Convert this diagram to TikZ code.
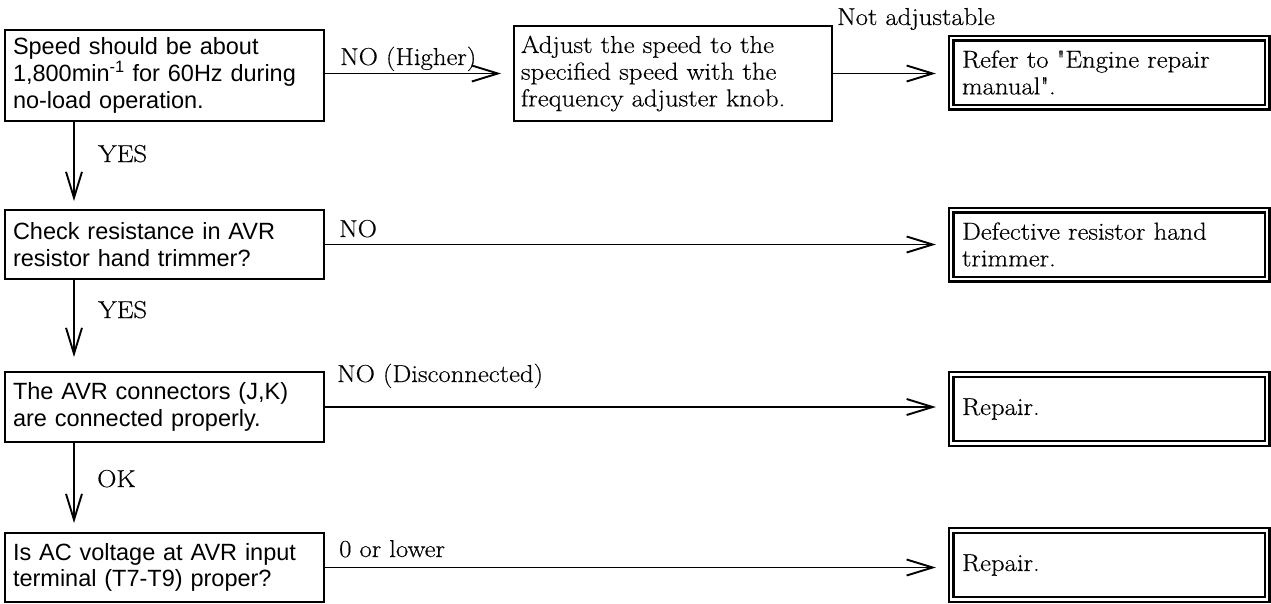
\documentclass[tikz,border=0pt]{standalone}
\usepackage{fontspec}
\newfontfamily\sansf{Liberation Sans}
\newfontfamily\serf[FakeStretch=1.09,FakeBold=0.4,Ligatures=TeXOff]{Latin Modern Roman}
\usetikzlibrary{arrows.meta}
\begin{document}
\begin{tikzpicture}[x=1pt,y=-1pt,
  serif/.style={font=\serf\fontsize{24.5}{26.7}\selectfont},
  lbox/.style={draw, line width=1.9pt, minimum width=319pt, inner xsep=8pt, inner ysep=0pt,
    text width=303pt, align=left, font=\sansf\fontsize{23.5}{26.7}\selectfont},
  mbox/.style={draw, line width=1.9pt, minimum width=318pt, minimum height=95pt, inner xsep=7pt,
    inner ysep=0pt, text width=304pt, align=left, serif},
  dbox/.style={draw, line width=2.3pt, double, double distance=2.4pt, minimum width=316pt,
    minimum height=69pt, inner xsep=11pt, inner ysep=0pt, text width=294pt, align=left, serif},
  lab/.style={serif, inner sep=0pt, anchor=base west},
  conn/.style={line width=1.9pt, -{Straight Barb[length=26pt,width=16pt]}}
]
\useasboundingbox (0,0) rectangle (1271,603);
\coordinate (vx) at (74,0);

% left question boxes
\node[lbox, minimum height=91pt] (q1) at (164.5,75.5)
  {Speed should be about\\1,800min\textsuperscript{-1} for 60Hz during\\no-load operation.};
\node[lbox, minimum height=69pt] (q2) at (164.5,244.5)
  {Check resistance in AVR\\resistor hand trimmer?};
\node[lbox, minimum height=70pt] (q3) at (164.5,407)
  {The AVR connectors (J,K)\\are connected properly.};
\node[lbox, minimum height=69pt] (q4) at (164.5,567.5)
  {Is AC voltage at AVR input\\terminal (T7-T9) proper?};

% middle box
\node[mbox] (adj) at (673,73.5)
  {Adjust the speed to the\\specified speed with the\\frequency adjuster knob.};

% result boxes
\node[dbox] (r1) at (1109,72.5) {Refer to "Engine repair\\manual".};
\node[dbox] (r2) at (1109,244.5) {Defective resistor hand\\trimmer.};
\node[dbox] (r3) at (1109,409) {Repair.};
\node[dbox] (r4) at (1109,565) {Repair.};

% connectors
\draw[conn, shorten >=12pt] (q1.east |- adj.west) -- (adj.west);
\draw[conn, shorten >=14pt] (adj.east) -- (adj.east -| r1.west);
\draw[conn, shorten >=14pt] (q2.east) -- (q2.east -| r2.west);
\draw[conn, shorten >=14pt] (q3.east) -- (q3.east -| r3.west);
\draw[conn, shorten >=14pt] (q4.east) -- (q4.east -| r4.west);
\draw[conn, shorten >=8pt] (q1.south -| vx) -- (q2.north -| vx);
\draw[conn, shorten >=14pt] (q2.south -| vx) -- (q3.north -| vx);
\draw[conn, shorten >=9pt] (q3.south -| vx) -- (q4.north -| vx);

% labels
\node[lab] (lhigher) at (340,65) {NO (Higher)};
\node[lab] (lnotadj) at (837,25) {Not adjustable};
\node[lab] (lno2) at (339,237) {NO};
\node[lab] (lno3) at (337,382) {NO (Disconnected)};
\node[lab] (llow) at (339,557) {0 or lower};
\node[lab] (lyes1) at (98,162) {YES};
\node[lab] (lyes2) at (98,318) {YES};
\node[lab] (lok) at (97,487) {OK};
\end{tikzpicture}
\end{document}
